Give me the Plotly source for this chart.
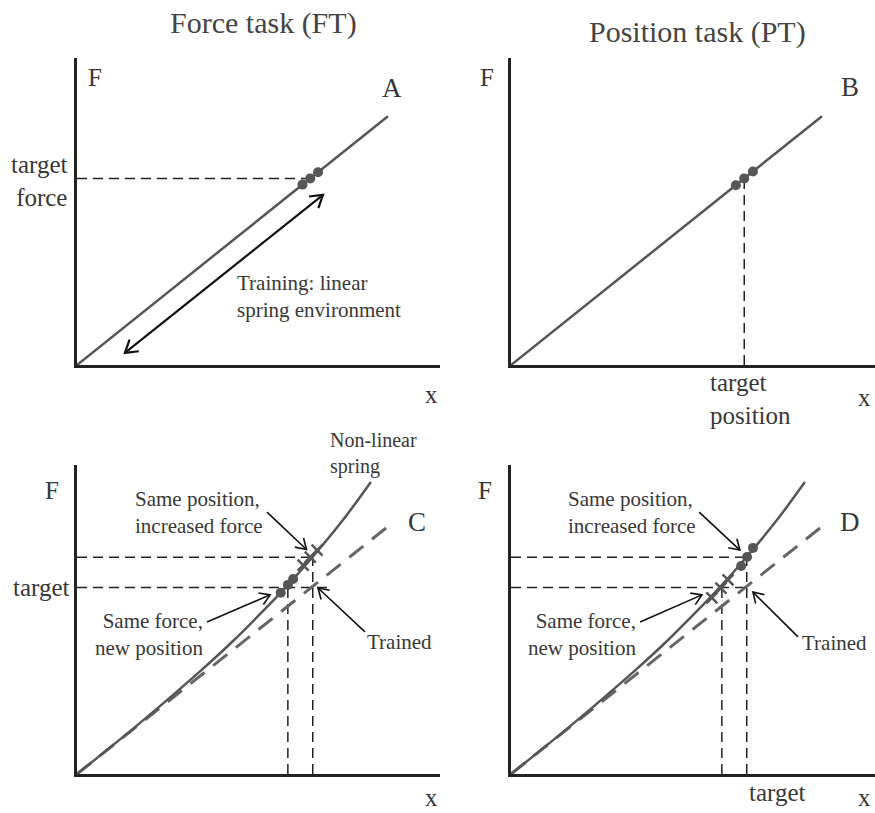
import math
import plotly.graph_objects as go

# ---------------- data (schematic units: position x, force F) ----------------
spring_x = [0, 10]            # trained linear spring
spring_F = [0, 8]
target_force = 6.0
target_pos = 7.5

# force-task / position-task trials on the linear spring
ft_trial_x = [7.25, 7.5, 7.75]
ft_trial_F = [5.8, 6.0, 6.2]
pt_trial_x = [7.23, 7.5, 7.78]
pt_trial_F = [5.78, 6.0, 6.22]

# non-linear test spring
nl_x = [0, 2, 4, 5, 6, 6.8, 7.5, 8.5, 9.45]
nl_F = [0, 1.62, 3.34, 4.26, 5.26, 6.10, 6.89, 8.10, 9.39]

# trained spring shown dashed in the test panels
trained_x = [0, 10.05]
trained_F = [0, 8.0]

# test-phase reference values
new_pos = 6.78        # position of target force on the non-linear spring
test_pos = 7.58       # trained position
new_force = 6.97      # force of the trained position on the non-linear spring

# panel C (force task): dots = same force, crosses = same position
c_dot_x = [6.55, 6.78, 6.95]
c_dot_F = [5.83, 6.08, 6.27]
c_cross_x = [7.27, 7.5, 7.72]
c_cross_F = [6.72, 6.97, 7.2]

# panel D (position task): dots = same position, crosses = same force
d_dot_x = [7.40, 7.59, 7.78]
d_dot_F = [6.69, 6.98, 7.27]
d_cross_x = [6.46, 6.75, 6.98]
d_cross_F = [5.66, 5.98, 6.24]

# ---------------- layout geometry ----------------
W, H = 875, 813
S = 31.1                                  # pixels per data unit (both axes)
# origin (px), right end of x axis (px), top of y axis (px)
boxes = {
    1: (77, 365, 440, 58),
    2: (511, 365, 875, 58),
    3: (77, 774, 440, 465),
    4: (511, 774, 875, 465),
}

FONT = "Liberation Serif"
TXT = "#383838"
CURVE = "#565656"
AX = "#222222"

fig = go.Figure()


def ax_names(i):
    return ("x" if i == 1 else f"x{i}"), ("y" if i == 1 else f"y{i}")


def to_paper(i, x, y):
    """Panel data coordinates -> paper coordinates (labels may sit off-axis)."""
    x0, y0, _, _ = boxes[i]
    return (x0 + x * S) / W, 1 - (y0 - y * S) / H


def line(i, xs, ys, color=CURVE, width=2.5, dash="solid"):
    xa, ya = ax_names(i)
    fig.add_trace(go.Scatter(x=xs, y=ys, mode="lines", xaxis=xa, yaxis=ya,
                             line=dict(color=color, width=width, dash=dash),
                             hoverinfo="skip", cliponaxis=False))


def markers(i, xs, ys, symbol):
    xa, ya = ax_names(i)
    if symbol == "circle":
        mk = dict(symbol="circle", size=10, color=CURVE)
    else:
        mk = dict(symbol="x-thin", size=11, color=CURVE,
                  line=dict(color=CURVE, width=2.5))
    fig.add_trace(go.Scatter(x=xs, y=ys, mode="markers", xaxis=xa, yaxis=ya,
                             marker=mk, hoverinfo="skip", cliponaxis=False))


def head(i, tip, tail, length=0.38, ang=32, width=1.6):
    """Open V arrowhead at `tip`, pointing away from `tail`."""
    dx, dy = tail[0] - tip[0], tail[1] - tip[1]
    n = math.hypot(dx, dy)
    ux, uy = dx / n, dy / n
    pts = []
    for s in (1, -1):
        a = math.radians(ang) * s
        rx = ux * math.cos(a) - uy * math.sin(a)
        ry = ux * math.sin(a) + uy * math.cos(a)
        pts.append((tip[0] + length * rx, tip[1] + length * ry))
    line(i, [pts[0][0], tip[0], pts[1][0]], [pts[0][1], tip[1], pts[1][1]],
         color="#111111", width=width)


def arrow(i, tail, tip, width=1.6, both=False, length=0.38):
    line(i, [tail[0], tip[0]], [tail[1], tip[1]], color="#111111", width=width)
    head(i, tip, tail, length=length, width=width)
    if both:
        head(i, tail, tip, length=length, width=width)


annotations = []


def text(i, x, y, s, size=21, xanchor="center", align="center", color=TXT):
    px, py = to_paper(i, x, y)
    annotations.append(dict(x=px, y=py, xref="paper", yref="paper", text=s,
                            showarrow=False, xanchor=xanchor, yanchor="middle",
                            align=align,
                            font=dict(family=FONT, size=size, color=color)))


GUIDE = dict(color=AX, width=1.5, dash="10px,6px")
TRAINED = dict(color="#666666", width=3, dash="18px,11px")

# ---------------- panel A : force task, training ----------------
line(1, [0, target_pos], [target_force, target_force], **GUIDE)
line(1, spring_x, spring_F)
markers(1, ft_trial_x, ft_trial_F, "circle")
arrow(1, (1.54, 0.39), (7.91, 5.47), width=2.2, both=True, length=0.45)
text(1, -0.22, 5.92, "target<br>force", size=25, xanchor="right", align="right")
text(1, 5.08, 2.19, "Training: linear<br>spring environment", xanchor="left", align="left")
text(1, 0.58, 9.26, "F", size=25)
text(1, 10.13, 8.91, "A", size=27)
text(1, 11.41, -0.96, "x", size=25)

# ---------------- panel B : position task, training ----------------
line(2, [target_pos, target_pos], [0, target_force], **GUIDE)
line(2, spring_x, spring_F)
markers(2, pt_trial_x, pt_trial_F, "circle")
text(2, 6.33, -1.08, "target<br>position", size=25, xanchor="left", align="left")
text(2, -0.77, 9.23, "F", size=25)
text(2, 10.9, 8.94, "B", size=27)
text(2, 11.38, -1.03, "x", size=25)

# ---------------- panel C : force task, non-linear test ----------------
line(3, [0, 8.1], [target_force, target_force], **GUIDE)
line(3, [0, 7.7], [new_force, new_force], **GUIDE)
line(3, [new_pos, new_pos], [0, target_force], **GUIDE)
line(3, [test_pos, test_pos], [0, new_force], **GUIDE)
line(3, trained_x, trained_F, **TRAINED)
fig.add_trace(go.Scatter(x=nl_x, y=nl_F, mode="lines", xaxis="x3", yaxis="y3",
                         line=dict(color=CURVE, width=2.5, shape="spline"),
                         hoverinfo="skip", cliponaxis=False))
markers(3, c_dot_x, c_dot_F, "circle")
markers(3, c_cross_x, c_cross_F, "x")
arrow(3, (6.11, 8.42), (7.38, 7.22))
arrow(3, (4.18, 4.89), (6.21, 5.76))
arrow(3, (9.26, 4.57), (7.75, 5.98))
text(3, 1.80, 8.41, "Same position,<br>increased force", xanchor="left", align="left")
text(3, 4.12, 4.49, "Same force,<br>new position", xanchor="right", align="right")
text(3, 9.26, 4.24, "Trained", xanchor="left", align="left")
text(3, 8.07, 10.29, "Non-linear<br>spring", size=20, xanchor="left", align="left")
text(3, -0.15, target_force, "target", size=25, xanchor="right", align="right")
text(3, -0.80, 9.13, "F", size=25)
text(3, 10.93, 8.10, "C", size=27)
text(3, 11.41, -0.75, "x", size=25)

# ---------------- panel D : position task, non-linear test ----------------
line(4, [0, 7.7], [target_force, target_force], **GUIDE)
line(4, [0, test_pos], [new_force, new_force], **GUIDE)
line(4, [new_pos, new_pos], [0, target_force], **GUIDE)
line(4, [test_pos, test_pos], [0, new_force], **GUIDE)
line(4, trained_x, trained_F, **TRAINED)
fig.add_trace(go.Scatter(x=nl_x, y=nl_F, mode="lines", xaxis="x4", yaxis="y4",
                         line=dict(color=CURVE, width=2.5, shape="spline"),
                         hoverinfo="skip", cliponaxis=False))
markers(4, d_dot_x, d_dot_F, "circle")
markers(4, d_cross_x, d_cross_F, "x")
arrow(4, (6.05, 8.42), (7.36, 7.20))
arrow(4, (4.15, 4.89), (6.14, 5.76))
arrow(4, (9.23, 4.41), (7.78, 5.85))
text(4, 1.77, 8.41, "Same position,<br>increased force", xanchor="left", align="left")
text(4, 4.08, 4.49, "Same force,<br>new position", xanchor="right", align="right")
text(4, 9.29, 4.21, "Trained", xanchor="left", align="left")
text(4, 7.59, -0.61, "target", size=25, xanchor="left", align="left")
text(4, -0.84, 9.13, "F", size=25)
text(4, 10.9, 8.10, "D", size=27)
text(4, 11.38, -0.75, "x", size=25)

# column titles
for label, cx, cy in [("Force task (FT)", 263, 23), ("Position task (PT)", 697, 32)]:
    annotations.append(dict(x=cx / W, y=1 - cy / H, xref="paper", yref="paper",
                            text=label, showarrow=False, xanchor="center",
                            yanchor="middle",
                            font=dict(family=FONT, size=30, color="#444444")))

# ---------------- axes ----------------
layout = dict(width=W, height=H, margin=dict(l=0, r=0, t=0, b=0),
              paper_bgcolor="white", plot_bgcolor="white", showlegend=False,
              annotations=annotations)
for i, (x0, y0, x1, y1) in boxes.items():
    common = dict(showgrid=False, zeroline=False, showticklabels=False, ticks="",
                  showline=True, linewidth=3, linecolor=AX, fixedrange=True)
    xa, ya = ax_names(i)
    layout["xaxis" if i == 1 else f"xaxis{i}"] = dict(
        common, domain=[x0 / W, x1 / W], range=[0, (x1 - x0) / S], anchor=ya)
    layout["yaxis" if i == 1 else f"yaxis{i}"] = dict(
        common, domain=[1 - y0 / H, 1 - y1 / H], range=[0, (y0 - y1) / S], anchor=xa)
fig.update_layout(**layout)

fig.write_html("out.html")
